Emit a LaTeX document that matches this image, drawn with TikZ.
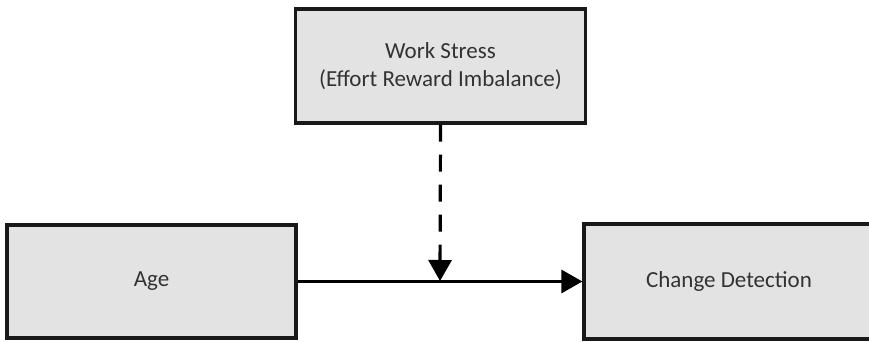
\documentclass[tikz,border=0pt]{standalone}
\usepackage{fontspec}
\setmainfont{Carlito}
\usetikzlibrary{arrows.meta}
\definecolor{boxfill}{HTML}{E3E3E3}
\definecolor{txt}{HTML}{333333}
\begin{document}
\begin{tikzpicture}[x=1pt,y=-1pt,
  box/.style={draw=black!90,line width=3.2pt,fill=boxfill,text=txt,font=\fontsize{23}{28}\selectfont,align=center,inner sep=0pt},
  conn/.style={line width=3.2pt,-{Triangle[length=21pt,width=23pt]}}]
\useasboundingbox (0,0) rectangle (869,342);
\node[box,minimum width=290pt,minimum height=114pt] (ws) at (440.5,66) {Work Stress\\(Effort Reward Imbalance)};
\node[box,minimum width=289pt,minimum height=113pt] (age) at (151.5,281.5) {Age};
\node[box,minimum width=290pt,minimum height=115pt] (cd) at (729,281.5) {Change Detection};
\draw[conn] (age.east) -- (cd.west);
\coordinate (mid) at (440,281);
\draw[conn,dash pattern=on 17pt off 13pt] (ws.south) -- (mid);
\end{tikzpicture}
\end{document}
